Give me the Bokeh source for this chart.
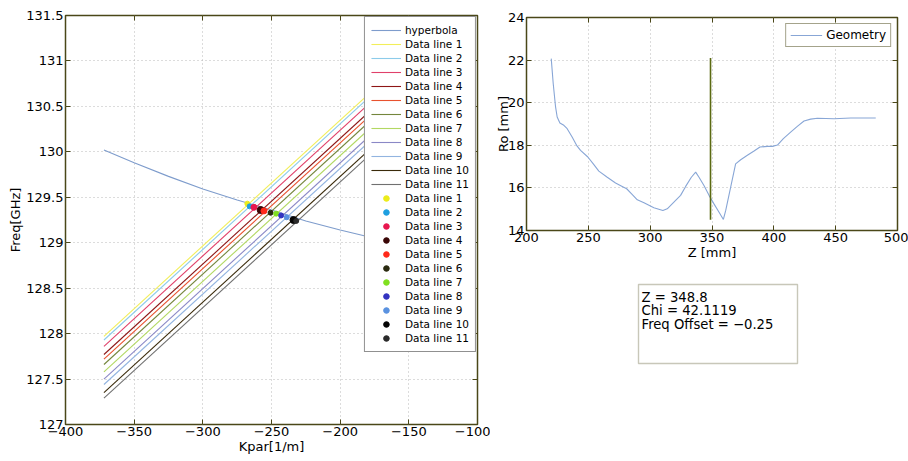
from bokeh.plotting import figure
from bokeh.models import Range1d, FixedTicker, LinearAxis, Legend, LegendItem, Label, BoxAnnotation
from bokeh.layouts import row, column
from bokeh.embed import file_html
from bokeh.resources import INLINE

FONT = "DejaVu Sans"
FRAME = "#4a4718"
GRID = "#b8b8b8"

# ---------------- left chart data ----------------
kpar_ticks = [-400, -350, -300, -250, -200, -150, -100]
kpar_tick_labels = ["−400", "−350", "−300", "−250", "−200", "−150", "−100"]
freq_ticks = [127, 127.5, 128, 128.5, 129, 129.5, 130, 130.5, 131, 131.5]
freq_tick_labels = ["127", "127.5", "128", "128.5", "129", "129.5", "130", "130.5", "131", "131.5"]

hyper_kpar = [-372, -350, -325, -300, -275, -250, -225, -200, -175, -150]
hyper_freq = [130.02, 129.88, 129.73, 129.59, 129.47, 129.36, 129.24, 129.14, 129.05, 128.97]

line_names = ["Data line %d" % i for i in range(1, 12)]
line_kpar = [-372, -150]
line_freq_start = [127.97, 127.93, 127.86, 127.77, 127.72, 127.66, 127.58, 127.50, 127.44, 127.35, 127.29]
line_freq_end = [131.04, 131.00, 130.93, 130.84, 130.79, 130.73, 130.65, 130.57, 130.51, 130.42, 130.36]

dot_kpar = [-267.6, -265.9, -262.8, -257.9, -255.5, -250.7, -246.6, -243.0, -238.9, -234.0, -232.0]
dot_freq = [129.43, 129.40, 129.39, 129.36, 129.35, 129.33, 129.32, 129.30, 129.28, 129.25, 129.24]

# ---------------- right chart data ----------------
z_ticks = [200, 250, 300, 350, 400, 450, 500]
ro_ticks = [14, 16, 18, 20, 22, 24]

geom_z = [220, 221.6, 223.5, 224.8, 227, 230.2, 232.9, 236.9, 240.5, 243.7, 249.6, 254, 258.5,
          265.3, 272, 277.4, 281, 285, 289.6, 295, 303, 310.3, 313.8, 318.4, 324.6, 328.7,
          333.3, 336.8, 339.5, 343.5, 347.6, 351.6, 355.7, 359.2, 361.1, 365.1, 369.1, 373.2,
          378.6, 384, 388.8, 394.8, 398.8, 402.9, 407.7, 413.6, 419, 424.4, 429.8, 435.2,
          448.7, 462.2, 482.4]
geom_ro = [22.07, 20.9, 19.8, 19.33, 19.05, 18.94, 18.78, 18.39, 18.0, 17.76, 17.45, 17.13, 16.79,
           16.5, 16.23, 16.07, 15.96, 15.72, 15.44, 15.30, 15.07, 14.94, 15.02, 15.29, 15.65, 16.07,
           16.5, 16.74, 16.5, 16.11, 15.65, 15.25, 14.86, 14.52, 14.94, 16.04, 17.13, 17.32,
           17.53, 17.73, 17.92, 17.95, 17.95, 18.01, 18.31, 18.62, 18.89, 19.14, 19.23, 19.27,
           19.25, 19.28, 19.28]

marker_z = [348.8, 348.8]
marker_ro = [14.5, 22.1]

info_lines = ["Z = 348.8", "Chi = 42.1119", "Freq Offset = −0.25"]

# ---------------- styles ----------------
line_colors = ["#f2ee5a", "#8ccbea", "#e0406a", "#8e1616", "#e8522e", "#74863c",
               "#b2d862", "#8a88c6", "#92b4e0", "#3a2a0a", "#707070"]
dot_colors = ["#ecec1a", "#1e9fe0", "#e8174f", "#3a0606", "#ff2a1a", "#2a2a10",
              "#80e020", "#3434c0", "#5a92e0", "#050505", "#2a2a2a"]
dot_sizes = [5, 5, 6, 7, 6, 5, 5, 5, 5, 7, 5]
HYPER = "#7e9ccc"


def style_axes(p, xt, xlab, yt, ylab):
    p.xaxis.ticker = FixedTicker(ticks=xt)
    p.yaxis.ticker = FixedTicker(ticks=yt)
    if xlab:
        p.xaxis.major_label_overrides = dict(zip(xt, xlab))
    if ylab:
        p.yaxis.major_label_overrides = dict(zip(yt, ylab))
    for ax in p.xaxis + p.yaxis:
        ax.axis_line_color = None
        ax.major_tick_in = 5
        ax.major_tick_out = 0
        ax.minor_tick_line_color = None
        ax.major_tick_line_color = FRAME
        ax.major_label_text_font = FONT
        ax.major_label_text_font_size = "13px"
        ax.major_label_text_color = "#000000"
        ax.major_label_standoff = 2
        ax.axis_label_text_font = FONT
        ax.axis_label_text_font_size = "13px"
        ax.axis_label_text_font_style = "normal"
        ax.axis_label_text_color = "#000000"
        ax.axis_label_standoff = 0
    p.xgrid.ticker = FixedTicker(ticks=xt)
    p.ygrid.ticker = FixedTicker(ticks=yt)
    for g in (p.xgrid, p.ygrid):
        g.grid_line_color = GRID
        g.grid_line_dash = "1 3"
        g.grid_line_width = 1
    for loc, ticks in (("above", xt), ("right", yt)):
        ax = LinearAxis(ticker=FixedTicker(ticks=ticks), major_label_text_font_size="1px",
                        major_label_text_color=None,
                        major_tick_in=5, major_tick_out=0, minor_tick_line_color=None,
                        axis_line_color=None, major_tick_line_color=FRAME, major_label_standoff=0)
        p.add_layout(ax, loc)
    p.outline_line_color = FRAME
    p.outline_line_width = 1.5
    p.background_fill_color = "white"
    p.border_fill_color = "white"


# ---------------- left figure ----------------
p1 = figure(width=490, height=461, x_range=Range1d(-400, -100), y_range=Range1d(127, 131.5),
            output_backend="svg", toolbar_location=None,
            min_border_left=65, min_border_right=13, min_border_top=15, min_border_bottom=37,
            x_axis_label="Kpar[1/m]", y_axis_label="Freq[GHz]")
style_axes(p1, kpar_ticks, kpar_tick_labels, freq_ticks, freq_tick_labels)

items = []
rh = p1.line(hyper_kpar, hyper_freq, line_color=HYPER, line_width=1.1)
items.append(LegendItem(label="hyperbola", renderers=[rh]))
line_items = []
for i in range(11):
    r = p1.line(line_kpar, [line_freq_start[i], line_freq_end[i]], line_color=line_colors[i], line_width=1.1)
    line_items.append(LegendItem(label=line_names[i], renderers=[r]))
dot_items = []
for i in range(11):
    r = p1.scatter([dot_kpar[i]], [dot_freq[i]], size=dot_sizes[i], marker="circle",
                   fill_color=dot_colors[i], line_color=dot_colors[i])
    dot_items.append(LegendItem(label=line_names[i], renderers=[r]))
items += line_items + dot_items

leg1 = Legend(items=items, location="top_right", margin=1, padding=6, spacing=0,
              label_height=14, glyph_height=14, glyph_width=30, label_standoff=4,
              label_text_font=FONT, label_text_font_size="10.5px", label_text_color="#000000",
              border_line_color="#222222", border_line_width=1,
              background_fill_color="white", background_fill_alpha=1.0)
p1.add_layout(leg1)

# ---------------- right figure ----------------
p2 = figure(width=418, height=265, x_range=Range1d(200, 500), y_range=Range1d(14, 24),
            output_backend="svg", toolbar_location=None,
            min_border_left=36, min_border_right=11, min_border_top=17, min_border_bottom=35,
            x_axis_label="Z [mm]", y_axis_label="Ro [mm]")
style_axes(p2, z_ticks, None, ro_ticks, None)
p2.yaxis[0].axis_label_standoff = -6
rg = p2.line(geom_z, geom_ro, line_color="#88a6d6", line_width=1.1)
p2.line(marker_z, marker_ro, line_color="#5b6a12", line_width=1.6)
leg2 = Legend(items=[LegendItem(label="Geometry", renderers=[rg])], location="top_right",
              margin=6, padding=4, spacing=0, label_height=14, glyph_height=14, glyph_width=32,
              label_standoff=4, label_text_font=FONT, label_text_font_size="12px",
              label_text_color="#000000", border_line_color=FRAME, border_line_width=1.5,
              background_fill_color="white", background_fill_alpha=1.0)
p2.add_layout(leg2)

# ---------------- info box (frame aligned with the right chart's frame) ----------------
p3 = figure(width=418, height=196, x_range=Range1d(0, 371), y_range=Range1d(0, 196),
            output_backend="svg", toolbar_location=None, min_border=0,
            x_axis_location=None, y_axis_location=None)
p3.grid.visible = False
p3.outline_line_color = None
p3.add_layout(BoxAnnotation(left=112, right=271, bottom=98, top=177, fill_color="white",
                            fill_alpha=1.0, line_color=FRAME, line_width=1.4))
for txt, yy in zip(info_lines, [164, 151, 137]):
    p3.add_layout(Label(x=115, y=yy, text=txt, text_font=FONT, text_font_size="13.2px",
                        text_baseline="middle", text_align="left", text_color="#000000"))

layout = row(p1, column(p2, p3))
open("out.html", "w").write(file_html(layout, INLINE))
